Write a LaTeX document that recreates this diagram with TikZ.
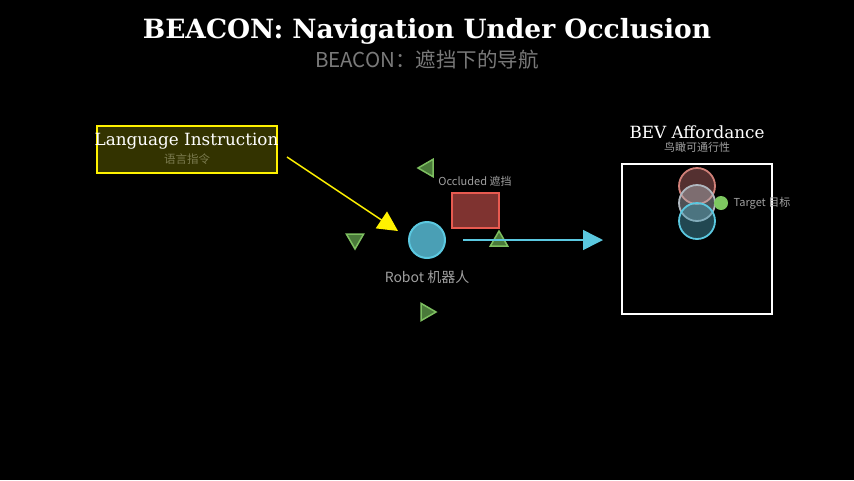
\documentclass[tikz,border=0pt]{standalone}
\usepackage{fontspec}
\setmainfont{DejaVu Serif}
\newfontfamily\cjk{Noto Sans CJK SC}
\usetikzlibrary{arrows.meta, shapes.geometric}
\definecolor{bgblack}{HTML}{000000}
\definecolor{robotblue}{HTML}{4A9FB5}
\definecolor{robotedge}{HTML}{5BC8E0}
\definecolor{occfill}{HTML}{7F3330}
\definecolor{occedge}{HTML}{E85A50}
\definecolor{trifill}{HTML}{4A7A3A}
\definecolor{triedge}{HTML}{7DBF60}
\definecolor{labelgray}{HTML}{A0A0A0}
\definecolor{subgray}{HTML}{7A7A7A}
\definecolor{langfill}{HTML}{333300}
\definecolor{langsub}{HTML}{7A7A4E}
\definecolor{pastedge}{HTML}{D08078}
\definecolor{pastfill}{HTML}{A86060}
\definecolor{midedge}{HTML}{B0B8C0}
\definecolor{targetgreen}{HTML}{7DC860}
\begin{document}
\begin{tikzpicture}[x=1pt, y=-1pt, >={Triangle[length=20pt, width=20pt]},
  tri/.style={regular polygon, regular polygon sides=3, draw=triedge, fill=trifill, line width=1.5pt, inner sep=0pt, minimum size=20pt},
  bevcircle/.style={circle, line width=1.8pt, inner sep=0pt, minimum size=36pt},
  smalllabel/.style={text=labelgray, font=\cjk\fontsize{11}{13}\selectfont}]
\fill[bgblack] (0,0) rectangle (854,480);
\useasboundingbox (0,0) rectangle (854,480);
% title
\node (title) at (427, 31.5) {\fontsize{26.5}{30}\selectfont\bfseries\color{white}BEACON: Navigation Under Occlusion};
\node (subtitle) at (427, 60) {\cjk\fontsize{20.5}{24}\selectfont\color{subgray}BEACON：遮挡下的导航};
% language instruction
\node[draw=yellow, fill=langfill, line width=2pt, minimum width=180pt, minimum height=47pt] (lang) at (186.5, 149) {};
\node[text=white, font=\fontsize{16.8}{19}\selectfont] (langtext) at (186.5, 141) {Language Instruction};
\node[text=langsub, font=\cjk\fontsize{11.5}{13}\selectfont] (langzh) at (187, 159) {语言指令};
% robot
\node[circle, draw=robotedge, fill=robotblue, line width=2pt, inner sep=0pt, minimum size=36pt] (robot) at (427, 240) {};
\node[text=labelgray, font=\cjk\fontsize{14}{16}\selectfont] (robotlabel) at (427, 277) {Robot 机器人};
% occluded obstacle
\node[draw=occedge, fill=occfill, line width=2pt, minimum width=47pt, minimum height=35pt] (occ) at (475, 210) {};
\node[smalllabel] (occlabel) at (475, 181) {Occluded 遮挡};
% surrounding cues
\node[tri, shape border rotate=90] (cue1) at (428, 168) {};
\node[tri, shape border rotate=180] (cue2) at (355, 239) {};
\node[tri] (cue3) at (499, 241) {};
\node[tri, shape border rotate=-90] (cue4) at (426, 312) {};
% arrows
\coordinate (langout) at (287, 157);
\coordinate (robotin) at (398, 231);
\draw[->, yellow, line width=1.5pt] (langout) -- (robotin);
\coordinate (robotout) at (463, 240);
\coordinate (bevin) at (603, 240);
\draw[->, robotedge, line width=1.5pt] (robotout) -- (bevin);
% BEV affordance map
\node[draw=white, line width=2pt, minimum size=150pt] (bev) at (697, 239) {};
\node[text=white, font=\fontsize{16.8}{19}\selectfont] (bevtitle) at (697, 132) {BEV Affordance};
\node[smalllabel] (bevzh) at (697, 147) {鸟瞰可通行性};
\node[bevcircle, draw=pastedge, fill=pastfill, fill opacity=0.5] (past) at (697, 186) {};
\node[bevcircle, draw=midedge, fill=midedge, fill opacity=0.45] (mid) at (697, 203) {};
\node[bevcircle, draw=robotedge, fill=robotblue, fill opacity=0.45] (now) at (697, 221) {};
\node[circle, fill=targetgreen, inner sep=0pt, minimum size=14pt] (target) at (721, 203) {};
\node[smalllabel] (targetlabel) at (762, 203) {Target 目标};
\end{tikzpicture}
\end{document}
